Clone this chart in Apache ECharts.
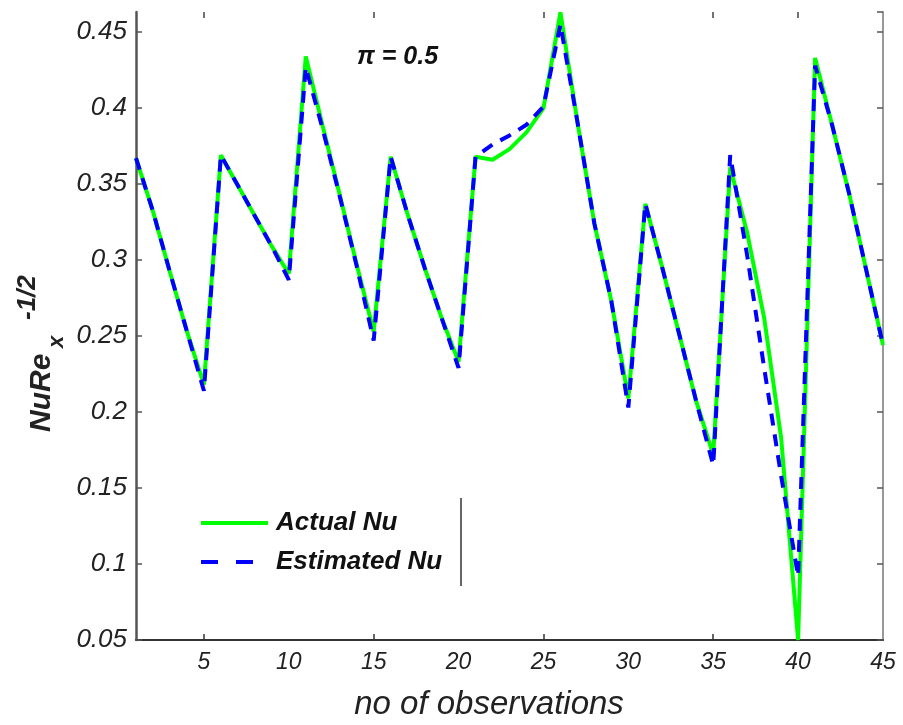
<!DOCTYPE html>
<html>
<head>
<meta charset="utf-8">
<script src="https://cdn.jsdelivr.net/npm/echarts@6/dist/echarts.min.js"></script>
<style>
html,body{margin:0;padding:0;background:#fff;}
#chart{width:903px;height:725px;}
</style>
</head>
<body>
<div id="chart"></div>
<script>
const observations = Array.from({length: 45}, (_, i) => i + 1);
const actualNu = [0.367,0.332,0.292,0.253,0.218, 0.369,0.349,0.329,0.309,0.291,
  0.434,0.388,0.343,0.297,0.253, 0.368,0.330,0.295,0.262,0.233,
  0.368,0.366,0.373,0.384,0.400, 0.463,0.391,0.324,0.273,0.209,
  0.337,0.295,0.251,0.207,0.172, 0.361,0.318,0.262,0.183,0.050,
  0.433,0.389,0.344,0.294,0.244];
const estimatedNu = [0.367,0.332,0.292,0.253,0.214, 0.369,0.349,0.329,0.309,0.287,
  0.427,0.386,0.342,0.296,0.247, 0.368,0.330,0.295,0.262,0.229,
  0.368,0.376,0.382,0.389,0.401, 0.455,0.391,0.324,0.273,0.203,
  0.337,0.295,0.251,0.207,0.165, 0.369,0.303,0.229,0.158,0.092,
  0.428,0.389,0.344,0.294,0.244];
const xTickLabels = [5,10,15,20,25,30,35,40,45];
const xBottomTicks = [5,15,25,35];
const xTopTicks = [5,15,25,35,40];
const seriesNames = ['Actual Nu', 'Estimated Nu'];
const annotation = 'π = 0.5';
const xTitle = 'no of observations';

const FONT = '"Liberation Sans", Arial, sans-serif';
const GREEN = '#00ff00', BLUE = '#0000ff';
const chart = echarts.init(document.getElementById('chart'), null, {renderer: 'canvas'});

const pairs = a => observations.map((x, i) => [x, a[i]]);

chart.setOption({
  animation: false,
  backgroundColor: '#fff',
  grid: {left: 136, right: 20, top: 12, bottom: 85, containLabel: false},
  xAxis: [{
    type: 'value', min: 1, max: 45, position: 'bottom',
    axisLine: {show: true, onZero: false, lineStyle: {color: '#333', width: 2}},
    axisTick: {show: true, inside: true, length: 6, customValues: xBottomTicks, lineStyle: {color: '#333', width: 1.5}},
    axisLabel: {customValues: xTickLabels, margin: 11, fontFamily: FONT, fontStyle: 'italic', fontSize: 23, color: '#222'},
    splitLine: {show: false}
  }, {
    type: 'value', min: 1, max: 45, position: 'top',
    axisLine: {show: false},
    axisTick: {show: true, inside: true, length: 6, customValues: xTopTicks, lineStyle: {color: '#444', width: 1.5}},
    axisLabel: {show: false},
    splitLine: {show: false}
  }],
  yAxis: [{
    type: 'value', min: 0.05, max: 0.4632, interval: 0.05, position: 'left',
    axisLine: {show: true, onZero: false, lineStyle: {color: '#555', width: 2.5}},
    axisTick: {show: true, inside: true, length: 6, lineStyle: {color: '#555', width: 1.5}},
    axisLabel: {showMaxLabel: false, margin: 9, fontFamily: FONT, fontStyle: 'italic', fontSize: 26, color: '#222',
      formatter: v => String(Math.round(v * 100) / 100)},
    splitLine: {show: false}
  }, {
    type: 'value', min: 0.05, max: 0.4632, interval: 0.05, position: 'right',
    axisLine: {show: true, onZero: false, lineStyle: {color: '#999', width: 2}},
    axisTick: {show: true, inside: true, length: 6, lineStyle: {color: '#555', width: 1.5}},
    axisLabel: {show: false},
    splitLine: {show: false}
  }],
  series: [{
    name: seriesNames[0], type: 'line', data: pairs(actualNu), symbol: 'none',
    lineStyle: {color: GREEN, width: 4}, itemStyle: {color: GREEN}, z: 2
  }, {
    name: seriesNames[1], type: 'line', data: pairs(estimatedNu), symbol: 'none',
    lineStyle: {color: BLUE, width: 4, type: [12, 9]}, itemStyle: {color: BLUE}, z: 3
  }],
  graphic: [
    {type: 'line', shape: {x1: 201, y1: 523, x2: 268, y2: 523}, style: {stroke: GREEN, lineWidth: 4}},
    {type: 'line', shape: {x1: 201, y1: 562, x2: 268, y2: 562}, style: {stroke: BLUE, lineWidth: 4, lineDash: [17, 18]}},
    {type: 'text', x: 276, y: 523, style: {text: seriesNames[0], font: 'italic bold 26px ' + FONT, fill: '#111', textVerticalAlign: 'middle'}},
    {type: 'text', x: 276, y: 562, style: {text: seriesNames[1], font: 'italic bold 26px ' + FONT, fill: '#111', textVerticalAlign: 'middle'}},
    {type: 'line', shape: {x1: 461, y1: 498, x2: 461, y2: 586}, style: {stroke: '#333', lineWidth: 1.5}},
    {type: 'text', x: 357, y: 57, style: {text: annotation, font: 'italic bold 25px ' + FONT, fill: '#111', textVerticalAlign: 'middle'}},
    {type: 'text', x: 489, y: 705, style: {text: xTitle, font: 'italic 33px ' + FONT, fill: '#222', textAlign: 'center', textVerticalAlign: 'middle'}},
    {type: 'group', x: 42, y: 432, rotation: Math.PI / 2, children: [
      {type: 'text', x: 0, y: 0, style: {text: 'NuRe', font: 'italic bold 30px ' + FONT, fill: '#222', textVerticalAlign: 'middle'}},
      {type: 'text', x: 84, y: 15, style: {text: 'x', font: 'italic bold 22px ' + FONT, fill: '#222', textVerticalAlign: 'middle'}},
      {type: 'text', x: 112, y: -14, style: {text: '-1/2', font: 'italic bold 26px ' + FONT, fill: '#222', textVerticalAlign: 'middle'}}
    ]}
  ]
});
</script>
</body>
</html>
